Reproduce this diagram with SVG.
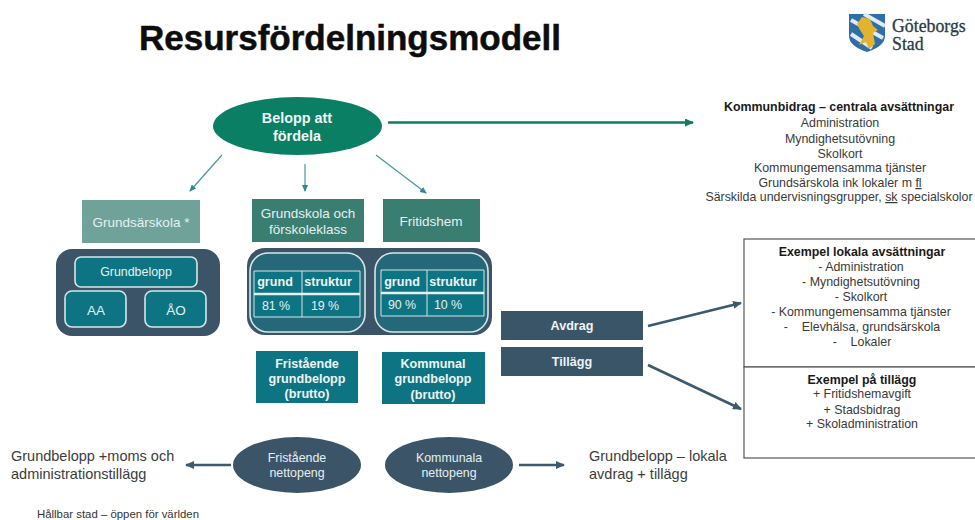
<svg xmlns="http://www.w3.org/2000/svg" width="975" height="520" viewBox="0 0 975 520">
<style>
text{font-family:"Liberation Sans",Arial,sans-serif;text-anchor:middle;white-space:pre}
.w{fill:#e6f0f0;font-size:13.5px}
.w2{fill:#e6f0f0;font-size:12.4px}
.wb{fill:#eef4f4;font-size:12.6px;font-weight:700}
.wl{fill:#f0f6f5;font-size:14.4px;font-weight:700}
.k{fill:#3a3a3a;font-size:12.4px}
.kb{fill:#1a1a1a;font-size:12.4px;font-weight:700}
.g{fill:#3c3c3c;font-size:14.5px;text-anchor:start}
.in{fill:#0d7483;stroke:#d5e6e8;stroke-width:1.6}
.ot{fill:#24687a;stroke:#d5e6e8;stroke-width:1.6}
.ln{stroke:#d5e6e8;stroke-width:1;fill:none}
.cy{stroke:#3f9aa3;stroke-width:1.2;fill:none;marker-end:url(#ac)}
.nv{stroke:#3a5a70;stroke-width:2.6;fill:none;marker-end:url(#an)}
.sq{text-decoration:underline wavy #d77}
.lg{font-family:"Liberation Serif",serif;font-size:17.8px;fill:#2b3a44;text-anchor:start;stroke:#2b3a44;stroke-width:.3}
</style>
<defs>
<marker id="ac" markerWidth="7" markerHeight="6" refX="6" refY="3" orient="auto" markerUnits="userSpaceOnUse"><path d="M0 0L7 3L0 6z" fill="#2d8a96"/></marker>
<marker id="an" markerWidth="9" markerHeight="8" refX="8" refY="4" orient="auto" markerUnits="userSpaceOnUse"><path d="M0 0L9 4L0 8z" fill="#3a5a70"/></marker>
<marker id="ag" markerWidth="9" markerHeight="8" refX="8" refY="4" orient="auto" markerUnits="userSpaceOnUse"><path d="M0 0L9 4L0 8z" fill="#0a7f63"/></marker>
</defs>
<rect width="975" height="520" fill="#fff"/>
<text id="title" x="350" y="50" style="font-size:35px;font-weight:700;fill:#0d0d0d;stroke:#0d0d0d;stroke-width:.5">Resursfördelningsmodell</text>
<g id="logo">
<path d="M849 14H885V36Q885 46 867 52Q849 46 849 36Z" fill="#2f6fa8"/>
<path d="M851 20L883 38M851 34L872 48M864 14L885 26" stroke="#dfeaf2" stroke-width="4" fill="none"/>
<path d="M857 24L862 17L870 19L873 26L878 30L873 33L875 44L869 49L866 42L859 45L864 36L860 30Z" fill="#e2b32e"/>
<text class="lg" x="892" y="31.500">Göteborgs</text>
<text class="lg" x="892" y="50">Stad</text>
</g>
<g id="connectors">
<line class="cy" x1="222" y1="155" x2="190" y2="191"/>
<line class="cy" x1="305" y1="164" x2="305" y2="191"/>
<line class="cy" x1="376" y1="155" x2="426" y2="193"/>
<line x1="388" y1="122.500" x2="693" y2="122.500" stroke="#0a7f63" stroke-width="2.400" marker-end="url(#ag)"/>
<line class="nv" x1="648" y1="326" x2="741" y2="303"/>
<line class="nv" x1="648" y1="365" x2="741" y2="409"/>
<line class="nv" x1="231" y1="465" x2="186" y2="465"/>
<line class="nv" x1="519" y1="465" x2="564" y2="465"/>
</g>
<g id="n-belopp"><ellipse cx="297.500" cy="126" rx="84.500" ry="29" fill="#0a7f63"/><text class="wl" x="297" y="123">Belopp att</text><text class="wl" x="297" y="141">fördela</text></g>
<g id="n-sarskola"><rect x="82" y="200" width="118" height="43" fill="#6fa39a"/><text class="w" x="141" y="227">Grundsärskola *</text></g>
<g id="n-grundskola"><rect x="252" y="199" width="112" height="43" fill="#3a7d71"/><text class="w" x="308" y="218">Grundskola och</text><text class="w" x="308" y="234">förskoleklass</text></g>
<g id="n-fritidshem"><rect x="383" y="199" width="97" height="43" fill="#3a7d71"/><text class="w" x="431" y="226">Fritidshem</text></g>
<g id="n-sarskola-panel">
<rect x="56" y="249" width="164" height="87" rx="16" fill="#3b5468"/>
<rect class="in" x="75" y="257" width="122" height="30" rx="6"/><text class="w2" x="136" y="276">Grundbelopp</text>
<rect class="in" x="65" y="291" width="61" height="36" rx="7"/><text class="w" x="96" y="315">AA</text>
<rect class="in" x="145" y="291" width="61" height="36" rx="7"/><text class="w" x="176" y="315">ÅO</text>
</g>
<g id="n-grund-panel">
<rect x="247" y="248" width="245" height="87" rx="18" fill="#3b5468"/>
<rect class="ot" x="250" y="253" width="115" height="79" rx="18"/>
<rect class="ot" x="375" y="253" width="113" height="79" rx="18"/>
<path d="M254 271H360V317H254ZM381 270H484V316H381Z" fill="#0d7483"/>
<path class="ln" d="M254 271H360V317H254ZM302 271V317M381 270H484V316H381ZM427 270V316"/>
<path d="M254 294H360M381 293H484" stroke="#e6f0f1" stroke-width="2.400"/>
<text class="wb" x="275" y="286">grund</text><text class="wb" x="328" y="286">struktur</text>
<text class="w2" x="276" y="310">81 %</text><text class="w2" x="325" y="310">19 %</text>
<text class="wb" x="402" y="286">grund</text><text class="wb" x="453" y="286">struktur</text>
<text class="w2" x="402" y="309">90 %</text><text class="w2" x="448" y="309">10 %</text>
</g>
<g id="n-fri-brutto"><rect x="256" y="351" width="102" height="52" fill="#0d7483"/><text class="wb" x="307" y="368">Fristående</text><text class="wb" x="307" y="383">grundbelopp</text><text class="wb" x="307" y="398">(brutto)</text></g>
<g id="n-kom-brutto"><rect x="382" y="352" width="103" height="52" fill="#0d7483"/><text class="wb" x="433" y="368">Kommunal</text><text class="wb" x="433" y="383">grundbelopp</text><text class="wb" x="433" y="399">(brutto)</text></g>
<g id="n-avdrag"><rect x="501" y="311" width="142" height="29" fill="#3a5568"/><text class="wb" x="572" y="330">Avdrag</text></g>
<g id="n-tillagg"><rect x="501" y="347" width="142" height="29" fill="#3a5568"/><text class="wb" x="572" y="366">Tillägg</text></g>
<g id="n-fri-netto"><ellipse cx="297" cy="465" rx="64" ry="28" fill="#3b5468"/><text class="w2" x="297" y="462">Fristående</text><text class="w2" x="297" y="477">nettopeng</text></g>
<g id="n-kom-netto"><ellipse cx="449" cy="465" rx="64" ry="28" fill="#3b5468"/><text class="w2" x="449" y="462">Kommunala</text><text class="w2" x="449" y="477">nettopeng</text></g>
<g id="n-central">
<text class="kb" x="839" y="111">Kommunbidrag – centrala avsättningar</text>
<text class="k" x="840" y="127">Administration</text>
<text class="k" x="840" y="143">Myndighetsutövning</text>
<text class="k" x="840" y="158">Skolkort</text>
<text class="k" x="840" y="172">Kommungemensamma tjänster</text>
<text class="k" x="840" y="187">Grundsärskola ink lokaler m <tspan class="sq">fl</tspan></text>
<text class="k" x="839" y="201">Särskilda undervisningsgrupper, <tspan class="sq">sk</tspan> specialskolor</text>
</g>
<g id="n-lokala">
<rect x="744" y="239" width="240" height="128" fill="#fff" stroke="#555" stroke-width="1.200"/>
<text class="kb" x="862" y="256">Exempel lokala avsättningar</text>
<text class="k" x="861" y="271">- Administration</text>
<text class="k" x="861" y="286">- Myndighetsutövning</text>
<text class="k" x="861" y="301">- Skolkort</text>
<text class="k" x="861" y="316">- Kommungemensamma tjänster</text>
<text class="k" x="862" y="331">-    Elevhälsa, grundsärskola</text>
<text class="k" x="862" y="346">-    Lokaler</text>
</g>
<g id="n-tillaggbox">
<rect x="744" y="367" width="240" height="91" fill="#fff" stroke="#555" stroke-width="1.200"/>
<text class="kb" x="862" y="384">Exempel på tillägg</text>
<text class="k" x="862" y="398">+ Fritidshemavgift</text>
<text class="k" x="862" y="414">+ Stadsbidrag</text>
<text class="k" x="862" y="428">+ Skoladministration</text>
</g>
<g id="n-left"><text class="g" x="11" y="461">Grundbelopp +moms och</text><text class="g" x="11" y="479">administrationstillägg</text></g>
<g id="n-right"><text class="g" x="589" y="461">Grundbelopp – lokala</text><text class="g" x="589" y="479">avdrag + tillägg</text></g>
<text id="footer" x="118" y="518" style="font-size:11.400px;fill:#333">Hållbar stad – öppen för världen</text>
</svg>
